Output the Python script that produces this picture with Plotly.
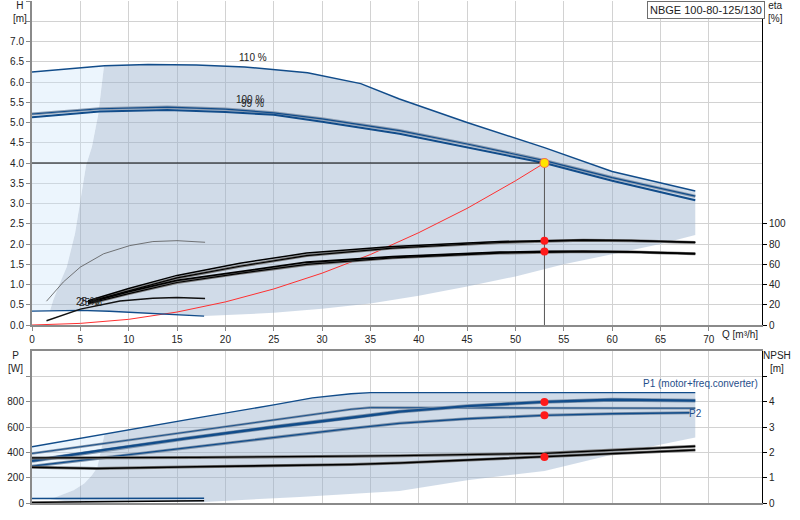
import plotly.graph_objects as go

# ---------------- data ----------------
# Top chart: head curves H [m] vs Q [m3/h]
Q_110 = [0, 7.5, 12, 17, 22, 28.5, 34, 38, 45, 53, 60, 68.6]
H_110 = [6.25, 6.40, 6.43, 6.42, 6.37, 6.23, 5.96, 5.58, 5.00, 4.38, 3.79, 3.31]

Q_100 = [0, 7, 14, 20, 25, 30, 38, 45, 53, 60, 68.6]
H_100 = [5.21, 5.34, 5.38, 5.33, 5.24, 5.09, 4.80, 4.47, 4.06, 3.64, 3.18]
H_99 = [5.13, 5.27, 5.31, 5.26, 5.19, 5.02, 4.72, 4.39, 4.00, 3.56, 3.08]

Q_MIN = [0, 2, 5, 8, 12.5, 17.8]
H_MIN = [0.345, 0.35, 0.36, 0.34, 0.29, 0.22]

Q_SYS = [0, 5, 10, 15, 20, 25, 30, 35, 40, 45, 50, 53]
H_SYS = [0, 0.04, 0.14, 0.32, 0.57, 0.89, 1.28, 1.74, 2.28, 2.88, 3.56, 4.0]

# efficiency curves eta [%]
Q_ETA = [5.8, 10, 15, 21.5, 28.4, 37.3, 48.4, 53, 57, 62, 68.6]
ETA_A = [24, 36, 49, 61, 71, 77.5, 82.4, 83.3, 84, 83.5, 81.7]
ETA_A2 = [23, 34, 46.5, 58, 68.6, 76, 81.5, 82.8, 83.6, 83.2, 81.5]
ETA_B = [22, 33, 44, 53, 62, 67.6, 71.9, 72.6, 72.8, 72.2, 70.5]
ETA_B2 = [21, 31, 42, 51, 59.8, 66.3, 71.0, 72.2, 72.5, 72.0, 70.3]

Q_ETA_MIN = [1.5, 3.24, 5.0, 7.4, 10.1, 12.5, 15, 17.9]
ETA_MIN = [23.5, 42.5, 57.2, 70.3, 78.4, 82.4, 83.3, 81.7]

Q_ETA_25 = [1.5, 5, 9.1, 12.5, 15, 17.9]
ETA_25 = [4.2, 15.7, 23.8, 26.5, 27.1, 26.2]

# operating point
Q_DUTY = 53
H_DUTY = 4.0
ETA_DUTY = [83.3, 72.5]

# shaded operating range (top)
Q_RANGE_LEFT = [1.86, 2.2, 3.0, 3.6, 4.45, 5.0, 5.6, 6.2, 6.85, 7.45]
H_RANGE_LEFT = [0.35, 0.62, 1.1, 1.44, 2.26, 3.08, 3.95, 4.4, 5.2, 6.4]
Q_RANGE_LOW = [68.6, 65, 60, 55, 50, 45, 40, 35, 30, 25, 17.8]
H_RANGE_LOW = [2.22, 2.0, 1.75, 1.5, 1.2, 0.95, 0.72, 0.53, 0.4, 0.3, 0.22]

# Bottom chart: power P [W]
Q_P1_110 = [0, 10, 17.4, 25, 29, 33, 35, 68.6]
P_P1_110 = [444, 580, 676, 775, 830, 862, 871, 871]
Q_P2_110 = [0, 16, 33, 35, 68.6]
P_P2_110 = [391, 560, 740, 753, 748]
Q_P1 = [0, 8, 16, 25, 33, 38, 45, 53, 60, 68.6]
P_P1 = [333, 425, 510, 600, 673, 721, 765, 798, 815, 808]
Q_P2 = [0, 16, 33, 38, 45, 53, 60, 68]
P_P2 = [291, 438, 589, 629, 665, 692, 705, 713]
P_DUTY = [798, 692]

Q_PMIN = [0, 17.8]
P1_MIN = [35, 38]
P2_MIN = [5, 18]

# NPSH [m]
Q_NPSH_U = [0, 17, 33, 38, 53, 68.6]
NPSH_U = [1.78, 1.80, 1.85, 1.87, 1.96, 2.24]
Q_NPSH_L = [0, 6.7, 17, 33, 38, 53, 68.6]
NPSH_L = [1.41, 1.36, 1.43, 1.52, 1.58, 1.82, 2.09]
NPSH_DUTY = 1.82

# shaded operating range (bottom)
Q_PRANGE_LEFT = [1.9, 3.2, 4.3, 5.4, 6.2, 6.75, 7.1, 7.35, 7.5]
P_PRANGE_LEFT = [30, 65, 100, 154, 220, 280, 400, 500, 544]
Q_PRANGE_LOW = [68.6, 60.5, 53, 45, 38, 27.7, 17.8, 4.0]
P_PRANGE_LOW = [518, 391, 253, 180, 95, 48, 8, 10]

X_TICKS = [0, 5, 10, 15, 20, 25, 30, 35, 40, 45, 50, 55, 60, 65, 70]
H_TICKS = [i * 0.5 for i in range(17)]
ETA_TICKS = [0, 20, 40, 60, 80, 100]
P_TICKS = [0, 200, 400, 600, 800, 1000]
NPSH_TICKS = [0, 1, 2, 3, 4, 5]

# ---------------- styling ----------------
BLUE = "#114c8a"
GRID = "#d2d2d2"
AXG = "#8a8a8a"
FONT = "Liberation Sans, Arial, sans-serif"
DARK_FILL = "rgba(150,175,205,0.45)"
PALE_FILL = "rgba(200,225,250,0.35)"

fig = go.Figure()


def interp(xs, ys, x):
    for i in range(len(xs) - 1):
        if xs[i] <= x <= xs[i + 1]:
            t = (x - xs[i]) / (xs[i + 1] - xs[i])
            return ys[i] + t * (ys[i + 1] - ys[i])
    return ys[-1]


def line(x, y, color, width, xa="x", ya="y", dash=None):
    fig.add_trace(go.Scatter(x=x, y=y, mode="lines", xaxis=xa, yaxis=ya,
                             line=dict(color=color, width=width, dash=dash),
                             hoverinfo="skip", showlegend=False))


def poly(x, y, color, xa="x", ya="y"):
    fig.add_trace(go.Scatter(x=x, y=y, mode="lines", fill="toself", fillcolor=color,
                             xaxis=xa, yaxis=ya, line=dict(width=0),
                             hoverinfo="skip", showlegend=False))


# ---- top shaded regions ----
q_top = [q for q in Q_110 if q > Q_RANGE_LEFT[-1]]
h_top = [interp(Q_110, H_110, q) for q in q_top]
q_min_back = [q for q in reversed(Q_MIN) if Q_RANGE_LEFT[0] < q < Q_RANGE_LOW[-1]]
h_min_back = [interp(Q_MIN, H_MIN, q) for q in q_min_back]
poly(Q_RANGE_LEFT + q_top + Q_RANGE_LOW + q_min_back + [Q_RANGE_LEFT[0]],
     H_RANGE_LEFT + h_top + H_RANGE_LOW + h_min_back + [H_RANGE_LEFT[0]], DARK_FILL)
poly([0] + Q_RANGE_LEFT + [0],
     [H_MIN[0]] + H_RANGE_LEFT + [H_110[0]], PALE_FILL)

# ---- bottom shaded regions ----
q_ptop = [q for q in Q_P1_110 if q > Q_PRANGE_LEFT[-1]]
p_ptop = [interp(Q_P1_110, P_P1_110, q) for q in q_ptop]
poly(Q_PRANGE_LEFT + q_ptop + Q_PRANGE_LOW + [Q_PRANGE_LEFT[0]],
     P_PRANGE_LEFT + p_ptop + P_PRANGE_LOW + [P_PRANGE_LEFT[0]], DARK_FILL, "x2", "y3")
poly([0] + Q_PRANGE_LEFT + [0],
     [P1_MIN[0]] + P_PRANGE_LEFT + [P_P1_110[0]], PALE_FILL, "x2", "y3")

# ---- top lines ----
line(Q_SYS, H_SYS, "#ff3030", 1)
line(Q_110, H_110, BLUE, 1.5)
line(Q_100, H_100, "#8a9bb0", 3.2)
line(Q_100, H_100, BLUE, 1.2)
line(Q_100, H_99, BLUE, 2.0)
line(Q_MIN, H_MIN, BLUE, 1.3)

line(Q_ETA_MIN, ETA_MIN, "#555555", 0.8, ya="y2")
line(Q_ETA_25, ETA_25, "#111111", 1.5, ya="y2")
line(Q_ETA, ETA_A2, "#777777", 3, ya="y2")
line(Q_ETA, ETA_A, "#000000", 1.5, ya="y2")
line(Q_ETA, ETA_A2, "#000000", 1.2, ya="y2")
line(Q_ETA, ETA_B2, "#777777", 3, ya="y2")
line(Q_ETA, ETA_B, "#000000", 1.8, ya="y2")
line(Q_ETA, ETA_B2, "#000000", 1.2, ya="y2")

# duty point lines
line([0, Q_DUTY], [H_DUTY, H_DUTY], "#000000", 1)
line([Q_DUTY, Q_DUTY], [0, H_DUTY], "#555555", 1)

fig.add_trace(go.Scatter(x=[Q_DUTY, Q_DUTY], y=ETA_DUTY, mode="markers", xaxis="x", yaxis="y2",
                         marker=dict(color="#ff1a1a", size=8, line=dict(width=0)),
                         hoverinfo="skip", showlegend=False))
fig.add_trace(go.Scatter(x=[Q_DUTY], y=[H_DUTY], mode="markers", xaxis="x", yaxis="y",
                         marker=dict(color="#ffe400", size=9, line=dict(color="#f07050", width=1.2)),
                         hoverinfo="skip", showlegend=False))

# ---- bottom lines ----
line(Q_P1_110, P_P1_110, BLUE, 1.4, "x2", "y3")
line(Q_P2_110, P_P2_110, "#8797ab", 2.5, "x2", "y3")
line(Q_P2_110, P_P2_110, BLUE, 0.9, "x2", "y3")
line(Q_P1, P_P1, "#7f93aa", 3.8, "x2", "y3")
line(Q_P1, P_P1, BLUE, 2.4, "x2", "y3")
line(Q_P2, P_P2, "#7f93aa", 3, "x2", "y3")
line(Q_P2, P_P2, BLUE, 1.4, "x2", "y3")
line(Q_PMIN, P1_MIN, BLUE, 1.5, "x2", "y3")
line(Q_PMIN, P2_MIN, "#000000", 1.5, "x2", "y3")

line(Q_NPSH_U, NPSH_U, "#777777", 3, "x2", "y4")
line(Q_NPSH_U, NPSH_U, "#000000", 1.3, "x2", "y4")
line(Q_NPSH_L, NPSH_L, "#777777", 3, "x2", "y4")
line(Q_NPSH_L, NPSH_L, "#000000", 1.6, "x2", "y4")

fig.add_trace(go.Scatter(x=[Q_DUTY, Q_DUTY], y=P_DUTY, mode="markers", xaxis="x2", yaxis="y3",
                         marker=dict(color="#ff1a1a", size=8, line=dict(width=0)),
                         hoverinfo="skip", showlegend=False))
fig.add_trace(go.Scatter(x=[Q_DUTY], y=[NPSH_DUTY], mode="markers", xaxis="x2", yaxis="y4",
                         marker=dict(color="#ff1a1a", size=8, line=dict(width=0)),
                         hoverinfo="skip", showlegend=False))

# ---------------- layout ----------------
W, H = 800, 520
ML, MR, MT, MB = 32, 38, 1, 17
PW, PH = W - ML - MR, H - MT - MB
TOP_BOTTOM_PX = 325
BOT_TOP_PX = 351
top_dom = [(H - MB - TOP_BOTTOM_PX) / PH, 1]
bot_dom = [0, (H - MB - BOT_TOP_PX) / PH]


def px(xp):
    return (xp - ML) / PW


def py(yp):
    return (H - MB - yp) / PH


tickfont = dict(family=FONT, size=10, color="#222222")
common_x = dict(range=[0, 75.5], tickvals=X_TICKS, showgrid=True, gridcolor=GRID, gridwidth=1,
                zeroline=False, showline=True, linecolor=AXG, linewidth=2, tickfont=tickfont,
                automargin=False)

fig.update_layout(
    width=W, height=H, margin=dict(l=ML, r=MR, t=MT, b=MB, autoexpand=False),
    paper_bgcolor="white", plot_bgcolor="white", showlegend=False,
    font=dict(family=FONT, size=10, color="#222222"),
    xaxis=dict(**common_x, domain=[0, 1], anchor="y", ticks="outside", ticklen=4, tickcolor=AXG),
    yaxis=dict(domain=top_dom, range=[0, 8.0], tickvals=H_TICKS,
               ticktext=[f"{v:.1f}" if v <= 7.0 else "" for v in H_TICKS],
               showgrid=True, gridcolor=GRID, zeroline=False, showline=True, linecolor=AXG,
               linewidth=2, ticks="outside", ticklen=4, tickcolor=AXG, tickfont=tickfont,
               automargin=False),
    yaxis2=dict(overlaying="y", side="right", anchor="x", range=[0, 320], tickvals=ETA_TICKS,
                showgrid=False, zeroline=False, showline=True, linecolor="#000000", linewidth=1,
                ticks="outside", ticklen=4, tickcolor="#000000", tickfont=tickfont,
                automargin=False),
    xaxis2=dict(**common_x, domain=[0, 1], anchor="y3", showticklabels=False, ticks="",
                mirror=True),
    yaxis3=dict(domain=bot_dom, range=[0, 1200], tickvals=P_TICKS,
                ticktext=[str(v) if v <= 800 else "" for v in P_TICKS],
                showgrid=True, gridcolor=GRID, zeroline=False, showline=True, linecolor=AXG,
                linewidth=2, ticks="outside", ticklen=4, tickcolor=AXG, tickfont=tickfont,
                automargin=False),
    yaxis4=dict(overlaying="y3", side="right", anchor="x2", range=[0, 6], tickvals=NPSH_TICKS,
                ticktext=[str(v) if v <= 4 else "" for v in NPSH_TICKS],
                showgrid=False, zeroline=False, showline=True, linecolor="#000000", linewidth=1,
                ticks="outside", ticklen=4, tickcolor="#000000", tickfont=tickfont,
                automargin=False),
)

ann = []


def note(text, xp, yp, xanchor="center", yanchor="middle", color="#222222", size=10, **kw):
    ann.append(dict(text=text, x=px(xp), y=py(yp), xref="paper", yref="paper",
                    xanchor=xanchor, yanchor=yanchor, showarrow=False,
                    font=dict(family=FONT, size=size, color=color), **kw))


note("H<br>[m]", 20, 12)
note("eta<br>[%]", 775, 12)
note("P<br>[W]", 15, 362)
note("NPSH<br>[m]", 777, 362)
note("Q [m³/h]", 740, 334)
note("NBGE 100-80-125/130", 706, 10, size=11, bgcolor="white", bordercolor="#6e6e6e",
     borderwidth=1, borderpad=2)


def dnote(text, x, y, xa="x", ya="y", color="#222222"):
    ann.append(dict(text=text, x=x, y=y, xref=xa, yref=ya, showarrow=False,
                    xanchor="center", yanchor="middle",
                    font=dict(family=FONT, size=10, color=color)))


dnote("110 %", 22.85, 6.6)
dnote("100 %", 22.5, 5.56)
dnote("99 %", 22.8, 5.47)
dnote("25 %", 5.7, 0.58)
dnote("25 %", 6.1, 0.55)
ann.append(dict(text="P1 (motor+freq.converter)", x=75.3, y=940, xref="x2", yref="y3",
                showarrow=False, xanchor="right", yanchor="middle",
                font=dict(family=FONT, size=10, color="#1f4e8a")))
dnote("P2", 68.6, 710, "x2", "y3", color="#1f4e8a")

fig.update_layout(annotations=ann)

fig.write_html("out.html", config={"displayModeBar": False},
               post_script="document.body.style.margin='0px';document.body.style.padding='0px';")
